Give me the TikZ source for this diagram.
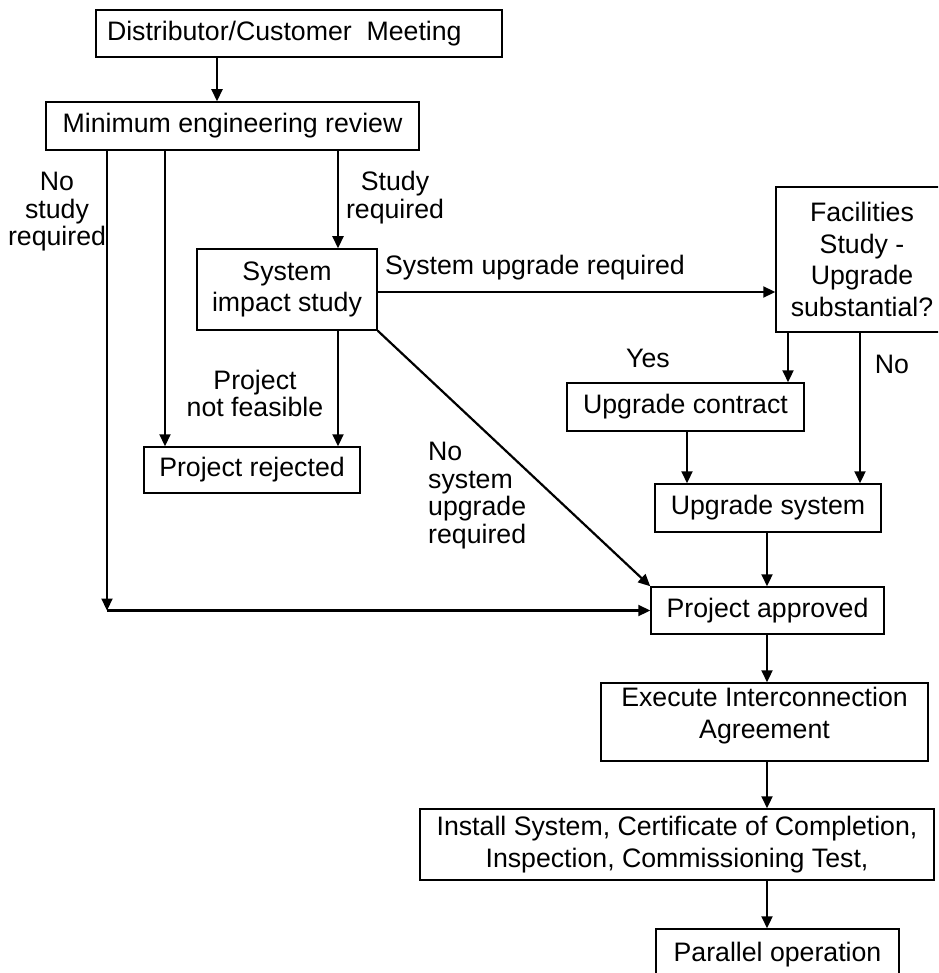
\documentclass[tikz,border=0pt]{standalone}
\usepackage{fontspec}
\setmainfont{Liberation Sans}
\usetikzlibrary{arrows.meta}
\begin{document}
\begin{tikzpicture}[x=1pt,y=-1pt,
  box/.style={draw, line width=1.5pt, inner sep=0pt, font=\fontsize{26.7}{31.5}\selectfont, align=center},
  lbl/.style={inner sep=0pt, font=\fontsize{26.7}{27.5}\selectfont, align=center},
  arr/.style={line width=2.2pt, -{Triangle[length=12pt,width=11pt]}}]
\useasboundingbox (0,0) rectangle (938,973);
\clip (0,0) rectangle (938,973);
\fill[white] (0,0) rectangle (938,973);

% boxes
\node[box, minimum width=406pt, minimum height=47pt] (b1) at (299,33.5) {\makebox[384pt][l]{Distributor/Customer\ \ Meeting}};
\node[box, minimum width=373pt, minimum height=48pt] (b2) at (232.5,126) {Minimum engineering review};
\node[box, minimum width=180pt, minimum height=81pt] (sis) at (287,289.5) {System\\impact study};
\node[box, minimum width=172pt, minimum height=145pt] (fac) at (862,259.5) {Facilities\\Study -\\Upgrade\\substantial?};
\node[box, minimum width=237pt, minimum height=48pt] (uc) at (685.5,407) {Upgrade contract};
\node[box, minimum width=226pt, minimum height=48pt] (us) at (768,508) {Upgrade system};
\node[box, minimum width=216pt, minimum height=46pt] (pr) at (252,470) {Project rejected};
\node[box, minimum width=233pt, minimum height=47pt] (pa) at (767.5,610.5) {Project approved};
\node[box, minimum width=327pt, minimum height=78pt] (ex) at (764.5,722) {Execute Interconnection\\Agreement\\[-13.4pt]\mbox{}};
\node[box, minimum width=514pt, minimum height=71pt] (ins) at (677,844.5) {Install System, Certificate of Completion,\\Inspection, Commissioning Test,};
\node[box, minimum width=243pt, minimum height=52pt] (par) at (777.5,955) {Parallel operation};

% labels
\node[lbl] (l1) at (57,212) {No\\study\\required};
\node[lbl] (l2) at (395,197.5) {Study\\required};
\node[lbl] (l3) at (535,268) {System upgrade required};
\node[lbl] (l4) at (255,393.5) {Project\\not feasible};
\node[lbl] (l5) at (648,358) {Yes};
\node[lbl] (l6) at (892,364) {No};
\node[lbl, align=left, anchor=west] (l7) at (428,495.5) {No\\system\\upgrade\\required};

% helper coordinates
\coordinate (x107) at (107,0);
\coordinate (x165) at (165,0);
\coordinate (x217) at (217,0);
\coordinate (x338) at (338,0);
\coordinate (x687) at (687,0);
\coordinate (x767) at (767,0);
\coordinate (x788) at (788,0);
\coordinate (x860) at (860,0);
\coordinate (y292) at (0,292);
\coordinate (corner) at (x107 |- pa.west);

% connectors
\draw[arr] (b1.south -| x217) -- (b2.north -| x217);
\draw[arr] (b2.south -| x107) -- (corner);
\draw[arr] (corner) -- (pa.west);
\draw[arr] (b2.south -| x165) -- (pr.north -| x165);
\draw[arr] (b2.south -| x338) -- (sis.north -| x338);
\draw[arr] (sis.south -| x338) -- (pr.north -| x338);
\draw[arr] (sis.east |- y292) -- (fac.west |- y292);
\draw[arr] (sis.south east) -- (pa.north west);
\draw[arr] (fac.south -| x788) -- (uc.north -| x788);
\draw[arr] (fac.south -| x860) -- (us.north -| x860);
\draw[arr] (uc.south -| x687) -- (us.north -| x687);
\draw[arr] (us.south -| x767) -- (pa.north -| x767);
\draw[arr] (pa.south -| x767) -- (ex.north -| x767);
\draw[arr] (ex.south -| x767) -- (ins.north -| x767);
\draw[arr] (ins.south -| x767) -- (par.north -| x767);
\end{tikzpicture}
\end{document}
